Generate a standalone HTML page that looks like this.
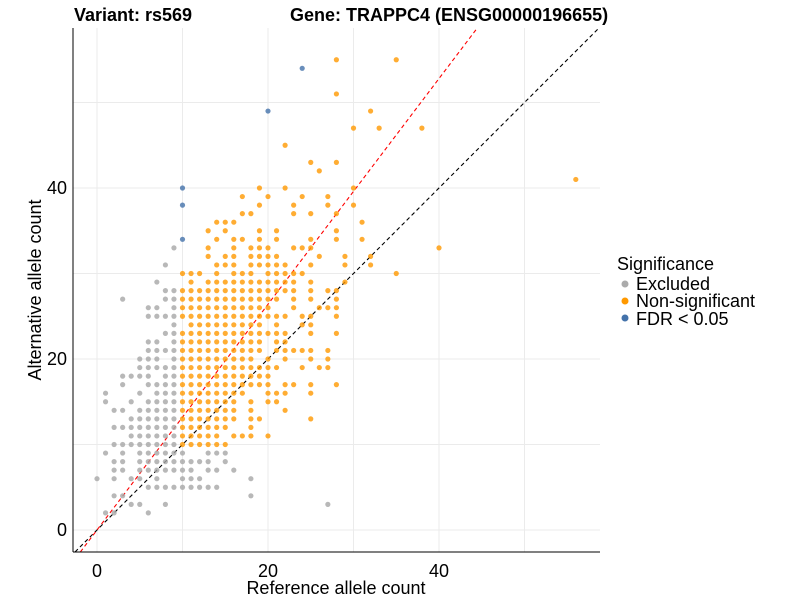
<!DOCTYPE html>
<html><head><meta charset="utf-8">
<style>
html,body{margin:0;padding:0;background:#fff;}
svg{display:block;font-family:"Liberation Sans",Arial,sans-serif;}
</style></head>
<body>
<svg id="chart" width="800" height="600" viewBox="0 0 800 600">
  <g id="grid"></g>
  <g id="refs"></g>
  <g id="points"></g>
  <line x1="73" y1="28" x2="73" y2="552" stroke="#000" stroke-width="1"/>
  <line x1="73" y1="552" x2="600" y2="552" stroke="#000" stroke-width="1"/>
  <g id="ticks"></g>
  <text x="74" y="21" font-size="18" font-weight="bold">Variant: rs569</text>
  <text x="290" y="21" font-size="18" font-weight="bold">Gene: TRAPPC4 (ENSG00000196655)</text>
  <text x="336" y="594" font-size="18" text-anchor="middle">Reference allele count</text>
  <text transform="translate(41,290) rotate(-90)" font-size="18" text-anchor="middle">Alternative allele count</text>
  <g>
    <text x="617" y="270" font-size="18">Significance</text>
    <g>
      <circle cx="625" cy="284" r="3.5" fill="#ABABAB"/>
      <text x="636" y="290" font-size="18">Excluded</text>
    </g>
    <g>
      <circle cx="625" cy="301" r="3.5" fill="#FF9900"/>
      <text x="636" y="307" font-size="18">Non-significant</text>
    </g>
    <g>
      <circle cx="625" cy="318" r="3.5" fill="#4372AA"/>
      <text x="636" y="325" font-size="18">FDR &lt; 0.05</text>
    </g>
  </g>
</svg>
<script>
// tick labels
const xTicks = [0, 20, 40];
const yTicks = [0, 20, 40];
const minorTicks = [10, 30, 50];
// reference line slopes (alt = slope * ref)
const lineSlopes = [1, 1.32];
// data: keys are alternative counts, values list reference counts
const excludedRows = {
  33:[9],31:[8],29:[7],28:[8,9],27:[3,8,9],26:[6,7,9],25:[6,7,8,9],24:[9],23:[8,9],
  22:[6,7,9],21:[6,7,8,9],20:[5,6,7,9],19:[5,6,7,8,9],18:[3,4,5,6,8,9],17:[3,6,7,8,9],
  16:[1,5,7,8,9],15:[1,4,6,7,8,9],14:[2,3,5,6,7,8,9],13:[4,5,6,7,8,9],12:[2,3,4,5,6,7,8,9],
  11:[4,5,6,7,8,9],10:[2,3,4,5,6,7,8,9],9:[1,3,5,6,7,8,9,10,13,14,15],
  8:[2,3,5,6,7,8,9,10,11,12,13,15],7:[2,3,5,6,7,8,9,10,11,13,14,16],
  6:[0,2,4,5,7,10,11,12,18],5:[6,7,8,9,10,11,12,13,14],4:[2,3,18],3:[4,5,8,27],2:[1,2,6]
};
const nonsigRows = {
  55:[28,35],51:[28],49:[32],47:[30,33,38],45:[22],43:[25,28],42:[26],41:[56],
  40:[19,22,30],39:[17,20,24,27],38:[19,23,27,30],37:[17,18,23,25,28],36:[14,15,16,31],
  35:[13,15,19,21,28],34:[14,16,17,19,21,25,28,31],33:[13,16,18,19,20,23,24,25,40],
  32:[13,15,16,18,19,20,21,26,29,32],31:[14,15,16,18,19,20,21,22,25,29,32],
  30:[10,11,12,14,16,17,18,20,21,22,23,24,35],
  29:[11,13,14,15,16,17,18,19,20,21,22,23,25,29],
  28:[10,11,12,13,14,15,16,17,18,19,20,21,22,23,25,27,28],
  27:[10,11,12,13,14,15,16,17,18,19,20,21,23,25,28],
  26:[10,11,12,13,14,15,16,17,18,19,20,23,26,27,28],
  25:[10,11,12,13,14,15,16,17,18,19,20,21,22,24,25,28],
  24:[11,12,13,14,15,16,17,18,19,21,24,25],
  23:[10,11,12,13,14,15,16,17,18,19,20,21,22,25,28],
  22:[10,11,12,13,14,15,16,17,18,19,21,22],
  21:[10,11,12,13,14,15,16,17,18,19,21,22,23,24,25,27],
  20:[10,11,12,13,14,15,16,17,18,20,22,25,27],
  19:[10,11,12,13,14,15,16,17,18,19,20,21,24,26,27],
  18:[10,11,12,13,14,15,16,17,18,19,20],
  17:[10,11,12,13,14,15,16,17,18,19,20,22,23,25,28],
  16:[10,11,12,13,14,15,16,17,20,21,22,25],
  15:[10,11,12,13,14,15,16,18,20,21],
  14:[10,11,12,13,14,15,16,18,22],
  13:[10,11,12,13,14,15,16,18,19,25],
  12:[10,11,12,13,14,15,18],
  11:[10,11,12,13,14,16,17,18,20],
  10:[10,11,12,13,14,15]
};
const fdrRef = [10, 10, 10, 20, 24];
const fdrAlt = [40, 38, 34, 49, 54];

const NS = "http://www.w3.org/2000/svg";
const X0 = 97, Y0 = 530, PX = 8.55;
const xScale = v => X0 + v * PX;
const yScale = v => Y0 - v * PX;
const xMin = -2.8, xMax = 58.8, yMin = -2.57, yMax = 58.7;

const grid = document.getElementById('grid');
const ticks = document.getElementById('ticks');
minorTicks.concat(xTicks).forEach(v => {
  const l = document.createElementNS(NS, 'line');
  l.setAttribute('x1', xScale(v)); l.setAttribute('x2', xScale(v));
  l.setAttribute('y1', 28); l.setAttribute('y2', 552);
  l.setAttribute('stroke', '#EBEBEB'); l.setAttribute('stroke-width', '1');
  
  
  grid.appendChild(l);
});
minorTicks.concat(yTicks).forEach(v => {
  const l = document.createElementNS(NS, 'line');
  l.setAttribute('y1', yScale(v)); l.setAttribute('y2', yScale(v));
  l.setAttribute('x1', 73); l.setAttribute('x2', 600);
  l.setAttribute('stroke', '#EBEBEB'); l.setAttribute('stroke-width', '1');
  
  
  grid.appendChild(l);
});
xTicks.forEach(v => {
  const t = document.createElementNS(NS, 'text');
  t.setAttribute('x', xScale(v)); t.setAttribute('y', 577);
  t.setAttribute('font-size', '18'); t.setAttribute('text-anchor', 'middle');
  t.setAttribute('fill', '#000');
  t.textContent = v;
  
  
  ticks.appendChild(t);
});
yTicks.forEach(v => {
  const t = document.createElementNS(NS, 'text');
  t.setAttribute('x', 67); t.setAttribute('y', yScale(v) + 6);
  t.setAttribute('font-size', '18'); t.setAttribute('text-anchor', 'end');
  t.setAttribute('fill', '#000');
  t.textContent = v;
  
  
  ticks.appendChild(t);
});

// reference lines clipped to panel
const refs = document.getElementById('refs');
const lineColors = ['#000', '#FF0000'];
lineSlopes.forEach((s, i) => {
  let xa = Math.max(xMin, yMin / s), xb = Math.min(xMax, yMax / s);
  const l = document.createElementNS(NS, 'line');
  l.setAttribute('x1', xScale(xa)); l.setAttribute('y1', yScale(xa * s));
  l.setAttribute('x2', xScale(xb)); l.setAttribute('y2', yScale(xb * s));
  l.setAttribute('stroke', lineColors[i]); l.setAttribute('stroke-width', '1.1');
  l.setAttribute('stroke-dasharray', '4,3');
  
  
  refs.appendChild(l);
});

const pts = document.getElementById('points');
function dot(x, y, fill, name) {
  const c = document.createElementNS(NS, 'circle');
  c.setAttribute('cx', xScale(x)); c.setAttribute('cy', yScale(y));
  c.setAttribute('r', '2.6'); c.setAttribute('fill', fill);
  c.setAttribute('fill-opacity', '0.8');
  
  
  pts.appendChild(c);
}
Object.keys(excludedRows).forEach(y => excludedRows[y].forEach(x => dot(x, +y, '#A6A6A6', 'excluded-point')));
Object.keys(nonsigRows).forEach(y => nonsigRows[y].forEach(x => dot(x, +y, '#FF9900', 'nonsignificant-point')));
fdrRef.forEach((x, i) => dot(x, fdrAlt[i], '#4372AA', 'fdr-point'));
</script>
</body></html>
